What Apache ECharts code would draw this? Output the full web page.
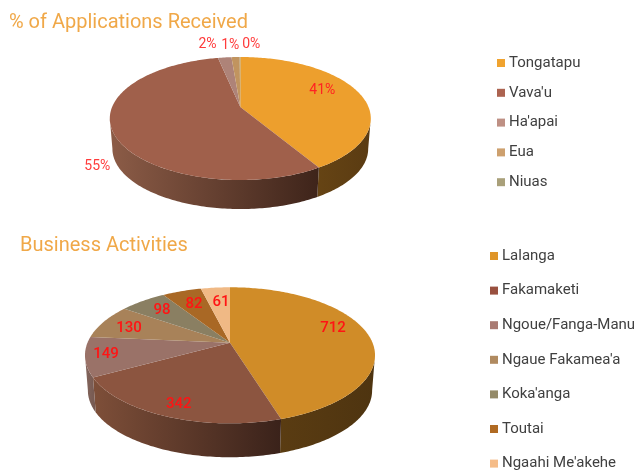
<!DOCTYPE html>
<html><head><meta charset="utf-8">
<style>html,body{margin:0;padding:0;background:#fff}#c{width:634px;height:471px}</style>
<script src="https://cdn.jsdelivr.net/npm/echarts@6/dist/echarts.min.js"></script>
</head><body><div id="c"></div>
<script>
const islands = ["Tongatapu","Vava'u","Ha'apai","Eua","Niuas"];
const islandShares = [41.4,55.3,2.0,1.2,0.1];
const activities = ["Lalanga","Fakamaketi","Ngoue/Fanga-Manu","Ngaue Fakamea'a","Koka'anga","Toutai","Ngaahi Me'akehe"];
const activityCounts = [712,342,149,130,98,82,61];

const islandTop = ['#ED9F2D','#A0604B','#AE8378','#C1945F','#A89B72'];
const islandKey = ['#F0A32F','#AC6350','#BE9084','#CDA06E','#A9A07A'];
const islandWall = [['#664414','#5A3B12'],['#8C5C47','#3E241A'],['#8a675e','#6e5049'],['#8f6d45','#7a5b38'],['#857a58','#70664a']];
const activityTop = ['#D08C28','#8C5540','#9A7268','#A88259','#8A7F62','#A96825','#F0B985'];
const activityKey = ['#DF9528','#99503F','#A97A72','#B08A60','#948A68','#B06A22','#F5BC88'];
const activityWall = [['#5A3C12','#4E3410'],['#7E4F39','#3A221A'],['#84665D','#755850'],['#8a6a48','#7a5c3c'],['#6e664e','#605840'],['#8a5520','#7a4a1c'],['#c09468','#b08658']];

const pieTop = {cx:240.3,cy:107,sx:128.2,sy:59.35,k:0.187,depth:30.5,shrink:0.98};
const pieBottom = {cx:230,cy:342.7,sx:142.5,sy:65.7,k:0.1854,depth:35.5,shrink:0.98};
const labelTop = {r:[.74,1.26,1.337,1.30,1.328],turn:[-8.6,-20.3,-5.5,-1.8,4.8],size:14,weight:'normal',
  fill:['#FF2222','#FF3B3B','#FF3B3B','#FF3B3B','#FF3B3B']};
const labelBottom = {r:[.79,.852,.859,.775,.76,.721,.703],turn:[-8.6,-.9,.8,-2.5,.2,.2,1.2],size:15,weight:'500',
  fill:Array(7).fill('#FF1414')};
const FONT = 'Roboto, sans-serif';

function project(g,a,r,drop,scale){
  const t=a*Math.PI/180,u=r*Math.sin(t),v=-r*Math.cos(t),w=1-g.k*v;
  return [g.cx+scale*g.sx*u/w, g.cy+drop+scale*g.sy*v/w];
}
function arc(g,a0,a1,drop,scale){
  const pts=[],n=Math.max(1,Math.ceil(Math.abs(a1-a0)));
  for(let i=0;i<=n;i++)pts.push(project(g,a0+(a1-a0)*i/n,1,drop,scale));
  return pts;
}
function bounds(vals){
  const total=vals.reduce((s,v)=>s+v,0);let acc=0;
  return vals.map(v=>{const a=acc/total*360;acc+=v;return [a,acc/total*360];});
}
function sliceSeries(names,vals,top,key,wall,g){
  const b=bounds(vals),edge=Math.asin(g.k)*180/Math.PI,wa=90+edge,wb=270-edge;
  return names.map((name,i)=>({
    type:'custom',name,coordinateSystem:'none',silent:true,
    itemStyle:{color:key[i]},data:[vals[i]],
    renderItem(){
      const [a0,a1]=b[i],children=[];
      const s=Math.max(a0,wa),e=Math.min(a1,wb);
      if(e>s){
        const pts=arc(g,s,e,0,1).concat(arc(g,e,s,g.depth,g.shrink));
        children.push({type:'polygon',shape:{points:pts},style:{
          fill:new echarts.graphic.LinearGradient(0,0,1,0,[{offset:0,color:wall[i][0]},{offset:1,color:wall[i][1]}])}});
      }
      children.push({type:'polygon',shape:{points:[[g.cx,g.cy]].concat(arc(g,a0,a1,0,1))},style:{fill:top[i]}});
      return {type:'group',children};
    }
  }));
}
function labelSeries(vals,g,lab,fmt){
  const b=bounds(vals);
  return {type:'custom',name:'labels',coordinateSystem:'none',silent:true,z:5,data:vals,
    renderItem(p){
      const i=p.dataIndex,mid=(b[i][0]+b[i][1])/2+lab.turn[i];
      const pos=project(g,mid,lab.r[i],0,1);
      return {type:'text',x:pos[0],y:pos[1],style:{text:fmt(vals[i]),fill:lab.fill[i],align:'center',verticalAlign:'middle',
        font:lab.weight+' '+lab.size+'px '+FONT}};
    }};
}
function legend(names,left,top,gap,size,height){
  return {data:names,orient:'vertical',left,top,height,padding:0,itemWidth:8,itemHeight:8,itemGap:gap,icon:'rect',selectedMode:false,
    textStyle:{color:'#404040',fontSize:size,fontFamily:FONT,padding:[0,0,0,-1],lineHeight:16}};
}
const chart=echarts.init(document.getElementById('c'),null,{renderer:'canvas'});
chart.setOption({
  animation:false,backgroundColor:'#fff',
  title:[
    {text:'% of Applications Received',left:9,top:13,padding:0,textStyle:{color:'#F0A848',fontSize:20,fontWeight:'normal',fontFamily:FONT}},
    {text:'Business Activities',left:20,top:236,padding:0,textStyle:{color:'#F0A848',fontSize:20,fontWeight:'normal',fontFamily:FONT}}
  ],
  legend:[legend(islands,497,55,13.8,15,170),legend(activities,490,248,18.6,15,224)],
  series:[
    ...sliceSeries(islands,islandShares,islandTop,islandKey,islandWall,pieTop),
    labelSeries(islandShares,pieTop,labelTop,v=>Math.round(v)+'%'),
    ...sliceSeries(activities,activityCounts,activityTop,activityKey,activityWall,pieBottom),
    labelSeries(activityCounts,pieBottom,labelBottom,v=>String(v))
  ]
});
</script></body></html>
